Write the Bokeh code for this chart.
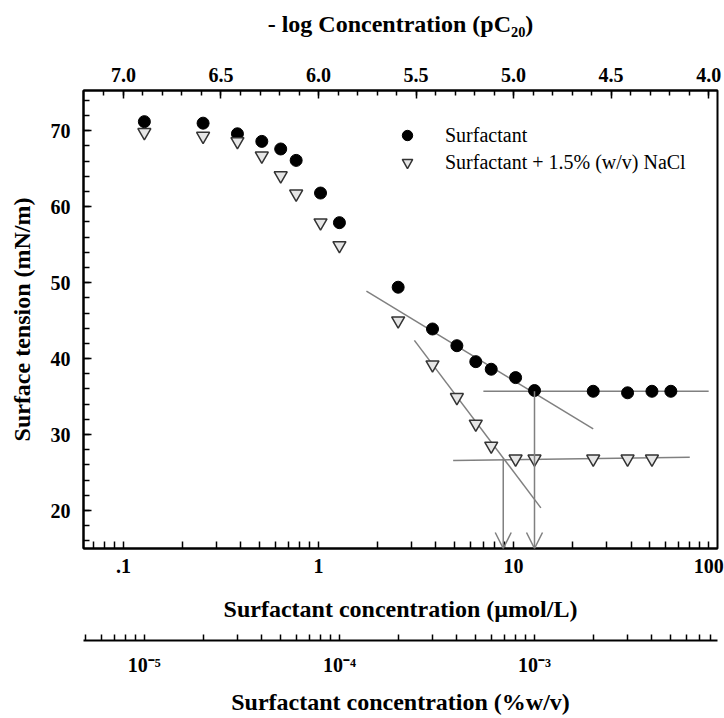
from bokeh.plotting import figure
from bokeh.models import (LogAxis, LinearAxis, FixedTicker, CustomJSTickFormatter, Range1d,
                          LogScale, Legend, LegendItem, Arrow, OpenHead, ColumnDataSource, Title)
from bokeh.embed import file_html
from bokeh.resources import INLINE

# ---------------- data ----------------
conc_surf = [0.128, 0.256, 0.384, 0.512, 0.64, 0.768, 1.024, 1.28, 2.56, 3.84,
             5.12, 6.4, 7.68, 10.24, 12.8, 25.6, 38.4, 51.2, 64.0]
st_surf = [71.2, 71.0, 69.6, 68.6, 67.6, 66.1, 61.8, 57.9, 49.4, 43.9,
           41.7, 39.6, 38.6, 37.5, 35.8, 35.7, 35.5, 35.7, 35.7]

conc_nacl = [0.128, 0.256, 0.384, 0.512, 0.64, 0.768, 1.024, 1.28, 2.56, 3.84,
             5.12, 6.4, 7.68, 10.24, 12.8, 25.6, 38.4, 51.2]
st_nacl = [69.8, 69.3, 68.6, 66.7, 64.1, 61.7, 57.9, 54.9, 45.0, 39.2,
           34.9, 31.4, 28.5, 26.8, 26.8, 26.8, 26.8, 26.8]

# fitted lines (end points)
fit_surf_x = [1.76, 25.6]
fit_surf_y = [48.9, 30.75]
plat_surf_x = [7.0, 100.0]
plat_surf_y = [35.7, 35.7]
fit_nacl_x = [3.1, 13.8]
fit_nacl_y = [42.4, 20.35]
plat_nacl_x = [4.9, 80.0]
plat_nacl_y = [26.6, 27.0]

# CMC arrows
cmc_x = [12.8, 8.85]
cmc_y = [35.7, 26.8]

# axes
x_lim = [0.0624, 111.0]
y_lim = [15.0, 75.3]
pct_per_umol = 7.8125e-5   # %w/v per umol/L

umol_major = [0.1, 1, 10, 100]
umol_minor = [0.07, 0.08, 0.09] + [d * m for d in (0.1, 1, 10) for m in range(2, 10)]
pc_major = [7.0, 6.5, 6.0, 5.5, 5.0, 4.5, 4.0]
pc_minor = [round(7.1 - 0.1 * i, 1) for i in range(32)]
pct_major = [1e-5, 1e-4, 1e-3]
pct_minor = [m * 1e-6 for m in range(5, 10)] + [m * 1e-5 for m in range(2, 10)] + \
            [m * 1e-4 for m in range(2, 10)] + [m * 1e-3 for m in range(2, 9)]
y_major = [20, 30, 40, 50, 60, 70]
y_minor = list(range(16, 76, 2))

SERIF = "Liberation Serif"
GRAY = "#808080"

p = figure(width=724, height=718, output_backend="svg", toolbar_location=None,
           x_axis_type="log", x_axis_location=None, y_axis_location=None,
           x_range=Range1d(*x_lim), y_range=Range1d(*y_lim),
           min_border_left=83, min_border_right=7, min_border_top=90,
           min_border_bottom=170)
p.outline_line_color = "black"
p.outline_line_width = 2
p.background_fill_color = "white"
p.border_fill_color = "white"


def style(ax, tick_in=7, minor_in=7):
    ax.axis_line_width = 2
    ax.axis_line_color = "black"
    ax.major_tick_in = tick_in
    ax.major_tick_out = 0
    ax.minor_tick_in = minor_in
    ax.minor_tick_out = 0
    ax.major_tick_line_width = 1.5
    ax.minor_tick_line_width = 1.5
    ax.major_label_text_font = SERIF
    ax.major_label_text_font_style = "bold"
    ax.major_label_text_font_size = "20px"
    ax.major_label_text_color = "black"
    ax.axis_label_text_font = SERIF
    ax.axis_label_text_font_style = "bold"
    ax.axis_label_text_font_size = "24px"
    ax.axis_label_text_color = "black"


# left axis
yax = LinearAxis(ticker=FixedTicker(ticks=y_major, minor_ticks=y_minor),
                 axis_label="Surface tension (mN/m)")
style(yax, 8, 6)
yax.major_label_standoff = 13
yax.axis_label_standoff = 13
p.add_layout(yax, "left")

# top axis: -log concentration
top = LogAxis(ticker=FixedTicker(ticks=[10 ** (6 - v) for v in pc_major],
                                 minor_ticks=[10 ** (6 - v) for v in pc_minor]),
              formatter=CustomJSTickFormatter(code="return (6 - Math.log10(tick)).toFixed(1);"),
              axis_label="- log Concentration (pC\u2082\u2080)")
style(top, 8, 5)
top.major_label_standoff = 9
top.axis_label_standoff = 28
p.add_layout(top, "above")

# bottom axis: umol/L
bot = LogAxis(ticker=FixedTicker(ticks=umol_major, minor_ticks=umol_minor),
              formatter=CustomJSTickFormatter(
                  code="return tick < 1 ? '.' + String(Math.round(tick*10)) : String(Math.round(tick));"),
              axis_label="Surfactant concentration (\u00b5mol/L)")
style(bot, 7, 7)
bot.major_label_standoff = 10
bot.axis_label_standoff = 20
p.add_layout(bot, "below")

# blank gap between the two bottom axes
p.add_layout(Title(text="\u00a0", text_font_size="12px", standoff=0, offset=0), "below")

# second bottom axis: %w/v
p.extra_x_ranges = {"pct": Range1d(x_lim[0] * pct_per_umol, x_lim[1] * pct_per_umol)}
p.extra_x_scales = {"pct": LogScale()}
sup_code = """
const e = Math.round(Math.log10(tick));
const m = {'-':'\\u207B','0':'\\u2070','1':'\\u00B9','2':'\\u00B2','3':'\\u00B3','4':'\\u2074',
           '5':'\\u2075','6':'\\u2076','7':'\\u2077','8':'\\u2078','9':'\\u2079'};
return '10' + String(e).split('').map(c => m[c]).join('');
"""
pax = LogAxis(x_range_name="pct",
              ticker=FixedTicker(ticks=pct_major, minor_ticks=pct_minor),
              formatter=CustomJSTickFormatter(code=sup_code),
              axis_label="Surfactant concentration (%w/v)")
style(pax, 6, 6)
pax.major_label_standoff = 13
pax.axis_label_standoff = 10
p.add_layout(pax, "below")

p.xgrid.visible = False
p.ygrid.visible = False

# fitted lines
for xs, ys in ((fit_surf_x, fit_surf_y), (plat_surf_x, plat_surf_y),
               (fit_nacl_x, fit_nacl_y), (plat_nacl_x, plat_nacl_y)):
    p.line(xs, ys, line_color=GRAY, line_width=1.5)

# arrows to CMC
asrc = ColumnDataSource(dict(x0=cmc_x, y0=cmc_y, x1=cmc_x, y1=[y_lim[0]] * len(cmc_x)))
p.add_layout(Arrow(end=OpenHead(size=16, line_color=GRAY, line_width=1.5),
                   x_start="x0", y_start="y0", x_end="x1", y_end="y1", source=asrc,
                   line_color=GRAY, line_width=1.5))

r1 = p.scatter(conc_surf, st_surf, marker="circle", size=12,
               fill_color="black", line_color="black")
r2 = p.scatter(conc_nacl, st_nacl, marker="inverted_triangle", size=13,
               fill_color="#e6e6e6", line_color="#333333", line_width=1.5)

legend = Legend(items=[LegendItem(label="Surfactant", renderers=[r1]),
                       LegendItem(label="Surfactant + 1.5% (w/v) NaCl", renderers=[r2])],
                location=(311, 373), border_line_color=None, background_fill_alpha=0,
                padding=0, margin=0, spacing=1, glyph_width=26, glyph_height=26,
                label_height=26, label_standoff=25, label_text_font=SERIF,
                label_text_font_size="20px", label_text_color="black")
p.add_layout(legend, "center")

open("out.html", "w").write(file_html(p, INLINE))
